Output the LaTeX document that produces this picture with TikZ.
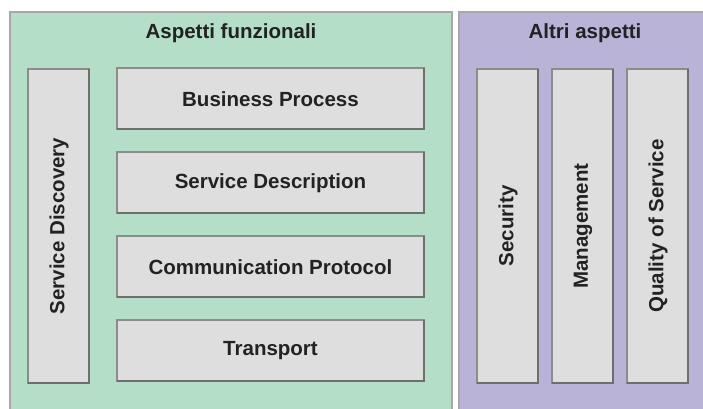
\documentclass[tikz,border=0pt]{standalone}
\usepackage{fontspec}
\setmainfont{Liberation Sans}
\definecolor{panelgreen}{HTML}{B5DEC8}
\definecolor{panelpurple}{HTML}{BAB3D8}
\definecolor{boxfill}{HTML}{DEDEDE}
\definecolor{boxline}{HTML}{8C8C8C}
\definecolor{boxshade}{HTML}{6E6E6E}
\definecolor{panelline}{HTML}{A8A8A8}
\definecolor{txt}{HTML}{222222}
\tikzset{
  panel/.style={draw=panelline, line width=1.5pt},
  layer/.style={draw=boxline, fill=boxfill, line width=1.2pt},
  shade/.style={draw=boxshade, line width=1.2pt},
  lbl/.style={text=txt, font=\fontsize{20.5}{24}\selectfont\bfseries},
  ttl/.style={text=txt, font=\fontsize{20.5}{24}\selectfont\bfseries}
}
\begin{document}
\begin{tikzpicture}[x=1pt,y=-1pt]
\useasboundingbox (0,0) rectangle (703,408);
\fill[white] (0,0) rectangle (703,408);
% panels
\draw[panel, fill=panelgreen] (10,12) rectangle (452,420);
\draw[panel, fill=panelpurple] (459,12) rectangle (720,420);
\node[ttl] (t1) at (231,33) {Aspetti funzionali};
\node[ttl] (t2) at (585,33) {Altri aspetti};
% functional layers
\foreach \nm/\y/\txt in {bp/68/Business Process, sd/152/Service Description, cp/236/Communication Protocol, tr/320/Transport}{
  \draw[layer] (117,\y) rectangle (424,\y+61);
  \draw[shade] (117,\y+61) -- (424,\y+61) -- (424,\y);
  \node[lbl] (\nm) at (270.5,\y+31) {\txt};
}
% vertical columns
\foreach \nm/\x/\txt in {disc/28/Service Discovery, sec/477/Security, man/552/Management, qos/627/Quality of Service}{
  \draw[layer] (\x,69) rectangle (\x+61,383);
  \draw[shade] (\x,383) -- (\x+61,383) -- (\x+61,69);
  \node[lbl, rotate=90] (\nm) at (\x+31,226) {\txt};
}
\end{tikzpicture}
\end{document}
